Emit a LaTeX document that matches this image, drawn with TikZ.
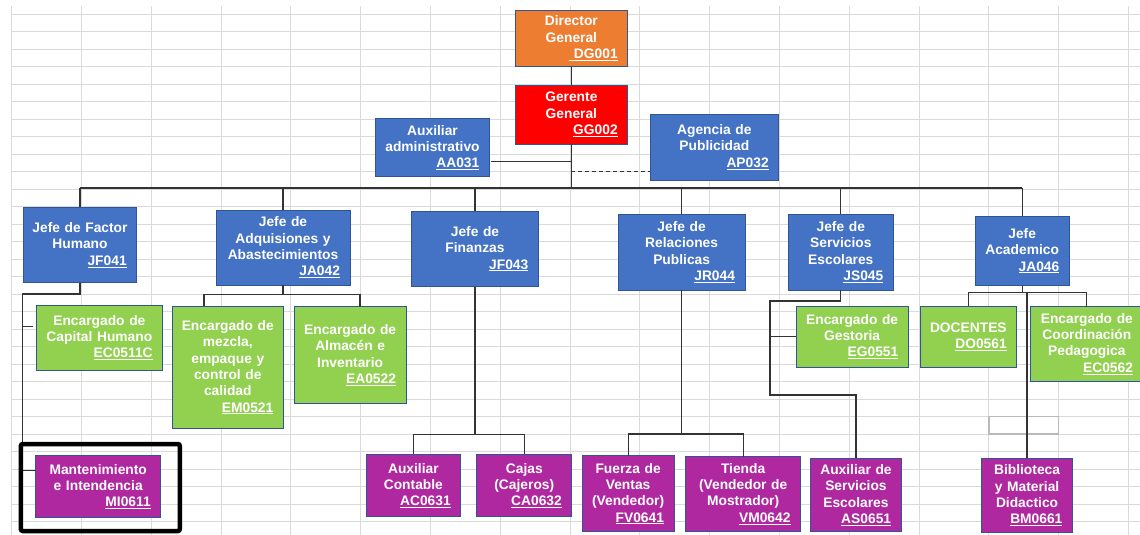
\documentclass[tikz,border=0pt]{standalone}
\usepackage{fontspec}
\setmainfont{Liberation Sans}
\definecolor{dgorange}{HTML}{ED7D31}
\definecolor{ggred}{HTML}{FF0000}
\definecolor{jefeblue}{HTML}{4472C4}
\definecolor{encgreen}{HTML}{92D050}
\definecolor{auxpurple}{HTML}{B028A0}
\definecolor{boxline}{HTML}{2F5597}
\definecolor{linegray}{HTML}{333333}
\definecolor{gridgray}{HTML}{DADADA}
\newcommand{\orgfont}{\fontsize{13.8}{16.3}\selectfont\bfseries}
\newcommand{\orgcode}[1]{\mbox{}\hfill\underline{#1}\hspace*{4pt}}
\tikzset{
  orgnode/.style={draw=boxline, line width=0.8pt, text=white, font=\orgfont, align=center,
    inner xsep=6pt, inner ysep=0pt, outer sep=0pt, anchor=north west},
  boxsize/.style 2 args={minimum width=#1pt, minimum height=#2pt,
    /utils/exec={\pgfmathsetlengthmacro\orgtw{#1pt-12pt}}, text width=\orgtw},
  director/.style={orgnode, fill=dgorange},
  gerente/.style={orgnode, fill=ggred},
  jefe/.style={orgnode, fill=jefeblue},
  encargado/.style={orgnode, fill=encgreen},
  auxiliar/.style={orgnode, fill=auxpurple},
  link/.style={draw=linegray, line width=1.2pt},
  gridline/.style={draw=gridgray, line width=0.9pt},
  highlight/.style={draw=black, line width=4.5pt, rounded corners=2pt},
}
\begin{document}
\begin{tikzpicture}[x=1pt, y=-1pt]
  \useasboundingbox[fill=white] (0,0) rectangle (1140,535);

  % Spreadsheet grid
  \foreach \gx in {0,...,16}
    \draw[gridline] ({11.7+69.8*\gx},6) -- ({11.7+69.8*\gx},535);
  \foreach \gy in {0,...,29}
    \draw[gridline] (11.7,{14+17.5*\gy}) -- (1140,{14+17.5*\gy});
  \draw[draw=gray!55, line width=1.2pt] (988.9,416.5) rectangle (1058.7,434);

  % Direction
  \node[director, boxsize={112.7}{56.7}] (dg) at (515,10) {Director\\General\\\orgcode{\ DG001}};
  \node[gerente, boxsize={112.7}{59}] (gg) at (515,85) {Gerente\\General\\\orgcode{GG002}};
  \node[jefe, boxsize={113.6}{58.4}] (aa) at (375.7,118.3) {Auxiliar\\administrativo\\\orgcode{AA031}};
  \node[jefe, boxsize={128.7}{66}] (ap) at (650,114) {Agencia de\\Publicidad\\\orgcode{AP032}};

  % Jefes
  \node[jefe, boxsize={113.4}{75.4}] (jf041) at (23.3,207.3) {Jefe de Factor\\Humano\\\orgcode{JF041}};
  \node[jefe, boxsize={134}{75}] (ja042) at (216,210) {Jefe de\\Adquisiones y\\Abastecimientos\\\orgcode{JA042}};
  \node[jefe, boxsize={126.6}{75.7}] (jf043) at (411.7,211) {Jefe de\\Finanzas\\\orgcode{JF043}};
  \node[jefe, boxsize={126.7}{75.7}] (jr044) at (618.3,214.3) {Jefe de\\Relaciones\\Publicas\\\orgcode{JR044}};
  \node[jefe, boxsize={105}{75.7}] (js045) at (788.3,214.3) {Jefe de\\Servicios\\Escolares\\\orgcode{JS045}};
  \node[jefe, boxsize={94.3}{69.7}] (ja046) at (975,216) {Jefe\\Academico\\\orgcode{JA046}};

  % Encargados
  \node[encargado, boxsize={126.7}{65}] (ec0511c) at (36,305) {Encargado de\\Capital Humano\\\orgcode{EC0511C}};
  \node[encargado, boxsize={111}{122.7}] (em0521) at (172.3,306) {Encargado de\\mezcla,\\empaque y\\control de\\calidad\\\orgcode{EM0521}};
  \node[encargado, boxsize={111.7}{96.6}] (ea0522) at (294.3,306.7) {Encargado de\\Almacén e\\Inventario\\\orgcode{EA0522}};
  \node[encargado, boxsize={112.3}{61.3}] (eg0551) at (796,306) {Encargado de\\Gestoria\\\orgcode{EG0551}};
  \node[encargado, boxsize={96.7}{61.3}] (do0561) at (920,306) {DOCENTES\\\orgcode{DO0561}};
  \node[encargado, boxsize={112.3}{74.3}] (ec0562) at (1030.7,306.7) {Encargado de\\Coordinación\\Pedagogica\\\orgcode{EC0562}};

  % Auxiliares
  \node[auxiliar, boxsize={125}{62}] (mi0611) at (35.7,455.7) {Mantenimiento\\e Intendencia\\\orgcode{MI0611}};
  \node[auxiliar, boxsize={94.7}{62.4}] (ac0631) at (366,454.3) {Auxiliar\\Contable\\\orgcode{AC0631}};
  \node[auxiliar, boxsize={95}{62.4}] (ca0632) at (476.8,454.3) {Cajas\\(Cajeros)\\\orgcode{CA0632}};
  \node[auxiliar, boxsize={91.8}{76}] (fv0641) at (582.2,455.7) {Fuerza de\\Ventas\\(Vendedor)\\\orgcode{FV0641}};
  \node[auxiliar, boxsize={114.7}{74.3}] (vm0642) at (685.8,456.7) {Tienda\\(Vendedor de\\Mostrador)\\\orgcode{VM0642}};
  \node[auxiliar, boxsize={90.3}{73.4}] (as0651) at (810.8,458.3) {Auxiliar de\\Servicios\\Escolares\\\orgcode{AS0651}};
  \node[auxiliar, boxsize={90.7}{74.4}] (bm0661) at (981.7,458.3) {Biblioteca\\y Material\\Didactico\\\orgcode{BM0661}};

  % Top links
  \draw[link] (dg.south) -- (gg.north);
  \coordinate (main bus) at (0,188);
  \draw[link] (gg.south) -- (gg.south |- main bus);
  \coordinate (aa link) at ([xshift=2pt,yshift=-14pt]aa.east);
  \draw[link] (aa link) -- (aa link -| gg.south);
  \coordinate (ap link) at ([yshift=-24.5pt]ap.west);
  \draw[link, dash pattern=on 4pt off 3pt] (ap link -| gg.south) -- (ap link);

  % Main bus to jefes
  \draw[link] (jf041.north |- main bus) -- (ja046.north |- main bus);
  \foreach \j in {jf041,ja042,jf043,jr044,js045,ja046}
    \draw[link] (\j.north) -- (\j.north |- main bus);

  % Factor Humano
  \coordinate (fh bus) at (22.7,294);
  \draw[link] (jf041.south) |- (fh bus) |- ([yshift=16pt]mi0611.west);
  \coordinate (fh tick) at ([xshift=-3pt,yshift=11pt]ec0511c.west);
  \draw[link] (fh bus |- fh tick) -- (fh tick);
  \draw[highlight] (20.8,444) rectangle (179.8,531);

  % Adquisiciones
  \coordinate (aq left) at (204,294.3);
  \coordinate (aq right) at (360,294.3);
  \draw[link] (ja042.south) -- (ja042.south |- aq left);
  \draw[link] (aq left |- em0521.north) -- (aq left) -- (aq right) -- (aq right |- ea0522.north);

  % Finanzas
  \coordinate (fn bus) at (0,434.3);
  \draw[link] (jf043.south) -- (jf043.south |- fn bus);
  \draw[link] (ac0631.north) -- (ac0631.north |- fn bus) -- (ca0632.north |- fn bus) -- (ca0632.north);

  % Relaciones Publicas
  \coordinate (rp bus) at (0,434);
  \draw[link] (jr044.south) -- (jr044.south |- rp bus);
  \draw[link] (fv0641.north) -- (fv0641.north |- rp bus) -- (vm0642.north |- rp bus) -- (vm0642.north);

  % Servicios Escolares
  \coordinate (se top) at (770,301);
  \coordinate (se low) at (770,395);
  \draw[link] (js045.south) |- (se top) -- (se low) -| (as0651.north);
  \draw[link] (se top |- eg0551.west) -- (eg0551.west);

  % Academico
  \coordinate (acad bus) at (0,292.7);
  \draw[link] (ja046.south) -- (ja046.south |- acad bus);
  \draw[link] (do0561.north) -- (do0561.north |- acad bus) -- (ec0562.north |- acad bus) -- (ec0562.north);
  \draw[link] (bm0661.north) -- (bm0661.north |- acad bus);
\end{tikzpicture}
\end{document}
